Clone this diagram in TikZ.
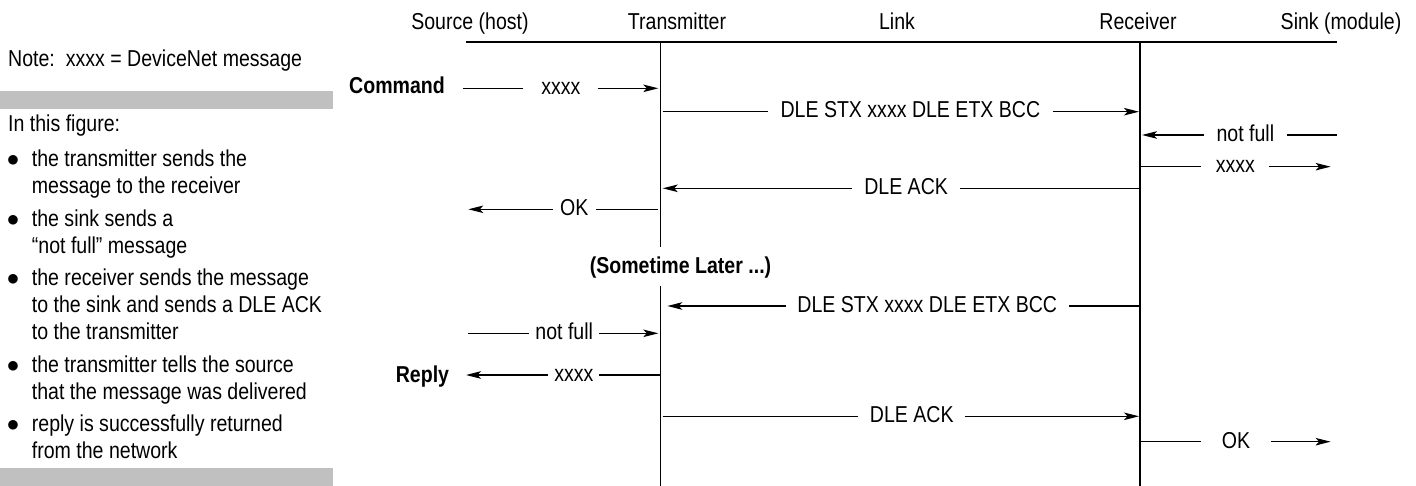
\documentclass[tikz,border=0pt]{standalone}
\usepackage{fontspec}
\setmainfont{Liberation Sans}[FakeStretch=0.85]
\usetikzlibrary{arrows.meta}
\definecolor{bargrey}{RGB}{192,192,192}
\begin{document}
\begin{tikzpicture}[x=1pt,y=-1pt,
  every node/.style={font=\fontsize{23}{27.2}\selectfont, inner sep=0pt},
  txt/.style={anchor=base west},
  hdr/.style={anchor=base},
  bul/.style={anchor=base},
  boldtxt/.style={font=\fontsize{23}{27.2}\selectfont\bfseries},
  life/.style={line width=1.3pt},
  msg/.style={line width=1.2pt, -{Stealth[length=15pt,width=7.5pt,inset=3.5pt]}},
  lab/.style={fill=white, anchor=base, yshift=-6.3pt, inner xsep=#1, inner ysep=2pt},
  lab/.default=10pt]
\useasboundingbox (0,0) rectangle (1416,486);

% ---------- left panel ----------
\node[txt] (note) at (8,66.7) {Note:\ \ xxxx = DeviceNet message};
\fill[bargrey] (0,90.7) rectangle (333,109);
\node[txt] (fig) at (8,131.7) {In this figure:};

\node[bul] (b1) at (13,166.7) {$\bullet$};
\node[txt] (l1) at (31.7,166.7) {the transmitter sends the};
\node[txt] (l2) at (31.7,193.9) {message to the receiver};
\node[bul] (b2) at (13,226.1) {$\bullet$};
\node[txt] (l3) at (31.7,226.1) {the sink sends a};
\node[txt] (l4) at (31.7,253.3) {“not full” message};
\node[bul] (b3) at (13,285.5) {$\bullet$};
\node[txt] (l5) at (31.7,285.5) {the receiver sends the message};
\node[txt] (l6) at (31.7,312.7) {to the sink and sends a DLE ACK};
\node[txt] (l7) at (31.7,339.9) {to the transmitter};
\node[bul] (b4) at (13,372.1) {$\bullet$};
\node[txt] (l8) at (31.7,372.1) {the transmitter tells the source};
\node[txt] (l9) at (31.7,399.3) {that the message was delivered};
\node[bul] (b5) at (13,431.5) {$\bullet$};
\node[txt] (l10) at (31.7,431.5) {reply is successfully returned};
\node[txt] (l11) at (31.7,458.7) {from the network};
\fill[bargrey] (0,468.3) rectangle (333,486);

% ---------- headers ----------
\node[hdr] (hsrc) at (470,29.3) {Source (host)};
\node[hdr] (htx)  at (677,29.3) {Transmitter};
\node[hdr] (hlink) at (897,29.3) {Link};
\node[hdr] (hrx)  at (1138,29.3) {Receiver};
\node[hdr] (hsink) at (1341,29.3) {Sink (module)};

\coordinate (hl) at (466,42);
\coordinate (hr) at (1337,42);
\draw[life] (hl) -- (hr);

% lifelines
\coordinate (txTop) at (660.7,42);
\coordinate (txGapA) at (660.7,247);
\coordinate (txGapB) at (660.7,285.7);
\coordinate (txBot) at (660.7,486);
\coordinate (rxTop) at (1140,42);
\coordinate (rxBot) at (1140,486);
\draw[life] (txTop) -- (txGapA);
\draw[life] (txGapB) -- (txBot);
\draw[life] (rxTop) -- (rxBot);

% side labels
\node[anchor=base east, boldtxt] (cmd) at (445,93.3) {Command};
\node[anchor=base east, boldtxt] (rep) at (449.3,382.5) {Reply};
\node[anchor=base, boldtxt] (later) at (680.5,273.3) {(Sometime Later ...)};

% ---------- messages ----------
\coordinate (m1a) at (463.3,88.3);  \coordinate (m1b) at (658.3,88.3);
\draw[msg] (m1a) -- node[lab=18pt, pos=.5] (t1) {xxxx} (m1b);

\coordinate (m2a) at (662.7,111.7); \coordinate (m2b) at (1139,111.7);
\draw[msg] (m2a) -- node[lab=12.7pt, pos=.52] (t2) {DLE STX xxxx DLE ETX BCC} (m2b);

\coordinate (m3a) at (1337,135);    \coordinate (m3b) at (1142,135);
\draw[msg] (m3a) -- node[lab=12.7pt, pos=.47] (t3) {not full} (m3b);

\coordinate (m4a) at (1140,166.7);  \coordinate (m4b) at (1330.6,166.7);
\draw[msg] (m4a) -- node[lab=14.6pt, pos=.5] (t4) {xxxx} (m4b);

\coordinate (m5a) at (1140,188.3);  \coordinate (m5b) at (662.7,188.3);
\draw[msg] (m5a) -- node[lab=12.2pt, pos=.49] (t5) {DLE ACK} (m5b);

\coordinate (m6a) at (657.7,209.3); \coordinate (m6b) at (468.3,209.3);
\draw[msg] (m6a) -- node[lab=7.5pt, pos=.44] (t6) {OK} (m6b);

\coordinate (m7a) at (1140,306);    \coordinate (m7b) at (667.3,306);
\draw[msg] (m7a) -- node[lab=11.7pt, pos=.45] (t7) {DLE STX xxxx DLE ETX BCC} (m7b);

\coordinate (m8a) at (468.3,333.3); \coordinate (m8b) at (658.3,333.3);
\draw[msg] (m8a) -- node[lab=6.2pt, pos=.505] (t8) {not full} (m8b);

\coordinate (m9a) at (660,375);     \coordinate (m9b) at (466,375);
\draw[msg] (m9a) -- node[lab=6pt, pos=.444] (t9) {xxxx} (m9b);

\coordinate (m10a) at (662.7,416.3); \coordinate (m10b) at (1139,416.3);
\draw[msg] (m10a) -- node[lab=11.6pt, pos=.523] (t10) {DLE ACK} (m10b);

\coordinate (m11a) at (1140,441.7); \coordinate (m11b) at (1330.6,441.7);
\draw[msg] (m11a) -- node[lab=21pt, pos=.504] (t11) {OK} (m11b);
\end{tikzpicture}
\end{document}
